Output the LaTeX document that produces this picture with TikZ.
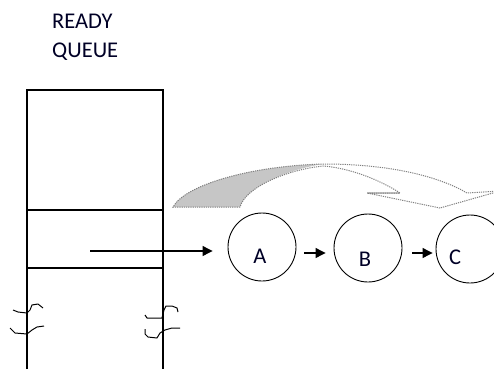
\documentclass[tikz,border=0pt]{standalone}
\usepackage{fontspec}
\setmainfont{Carlito}
\usetikzlibrary{arrows.meta}
\tikzset{
  wall/.style={line width=1.1pt, black},
  squig/.style={line width=1pt, black, line join=round},
  proc/.style={circle, draw=black, line width=0.9pt, minimum size=68pt, inner sep=0pt},
  lbl/.style={font=\fontsize{22.5}{25}\selectfont, text=black!85!blue},
  link/.style={line width=1.1pt, -{Triangle[length=10pt,width=10pt]}},
  loopline/.style={draw=gray, line width=1pt, dash pattern=on 1.2pt off 1pt},
}
\begin{document}
\begin{tikzpicture}[x=1pt,y=-1pt]
\useasboundingbox (0,0) rectangle (494,369);
\clip (0,0) rectangle (494,369);

% heading
\node[lbl, anchor=base west, inner sep=0pt] (t1) at (52,29) {READY};
\node[lbl, anchor=base west, inner sep=0pt] (t2) at (52,57) {QUEUE};

% queue column
\coordinate (tl) at (27,90);
\coordinate (tr) at (163,90);
\coordinate (bl) at (27,369);
\coordinate (br) at (163,369);
\draw[wall] (bl) -- (tl) -- (tr) -- (br);
\draw[wall] (27,210) -- (163,210);
\draw[wall] (27,268) -- (163,268);

% break marks on the walls
\draw[squig] (13,310) -- (18,312) -- (27,313) -- (30,310) -- (32,305) -- (38,304) -- (43,308);
\draw[squig] (10,328) -- (15,333) -- (27,334) -- (32,330) -- (37,327) -- (44,326);
\draw[squig] (145,315) -- (147,318) -- (162,318) -- (164,310) -- (166,306) -- (172,306) -- (177,308) -- (178,312);
\draw[squig] (145,329) -- (145,334) -- (148,337) -- (157,338) -- (160,333) -- (165,330) -- (172,328) -- (180,328);

% processes
\node[proc] (A) at (262,247) {};
\node[proc] (B) at (368,248) {};
\node[proc] (C) at (470,249) {};
\node[lbl] (la) at (260,256) {A};
\node[lbl] (lb) at (365,259) {B};
\node[lbl] (lc) at (455,257) {C};

% pointer from the queue entry
\coordinate (p0) at (90,251);
\draw[link, shorten >=15pt] (p0) -- (A.west |- p0);
\draw[link, shorten <=8pt, shorten >=8pt] (A.east |- 0,253) -- (B.west |- 0,253);
\draw[link, shorten <=10pt, shorten >=3pt] (B.east |- 0,253) -- (C.west |- 0,253);

% curved arrow over the list
\fill[gray!45] (173,207) .. controls (185,185) and (250,166) .. (323,164)
   .. controls (285,170) and (245,188) .. (240,207) -- cycle;
\fill[gray!45] (367,192.3) rectangle (400,194);
\draw[loopline] (240,207) -- (173,207) .. controls (185,185) and (250,166) .. (323,164)
   .. controls (400,164) and (445,180) .. (467,193) -- (500,191)
   -- (440,208) -- (367,193) -- (400,193)
   .. controls (380,180) and (350,168) .. (323,166)
   .. controls (285,170) and (245,188) .. (240,207);
\end{tikzpicture}
\end{document}
